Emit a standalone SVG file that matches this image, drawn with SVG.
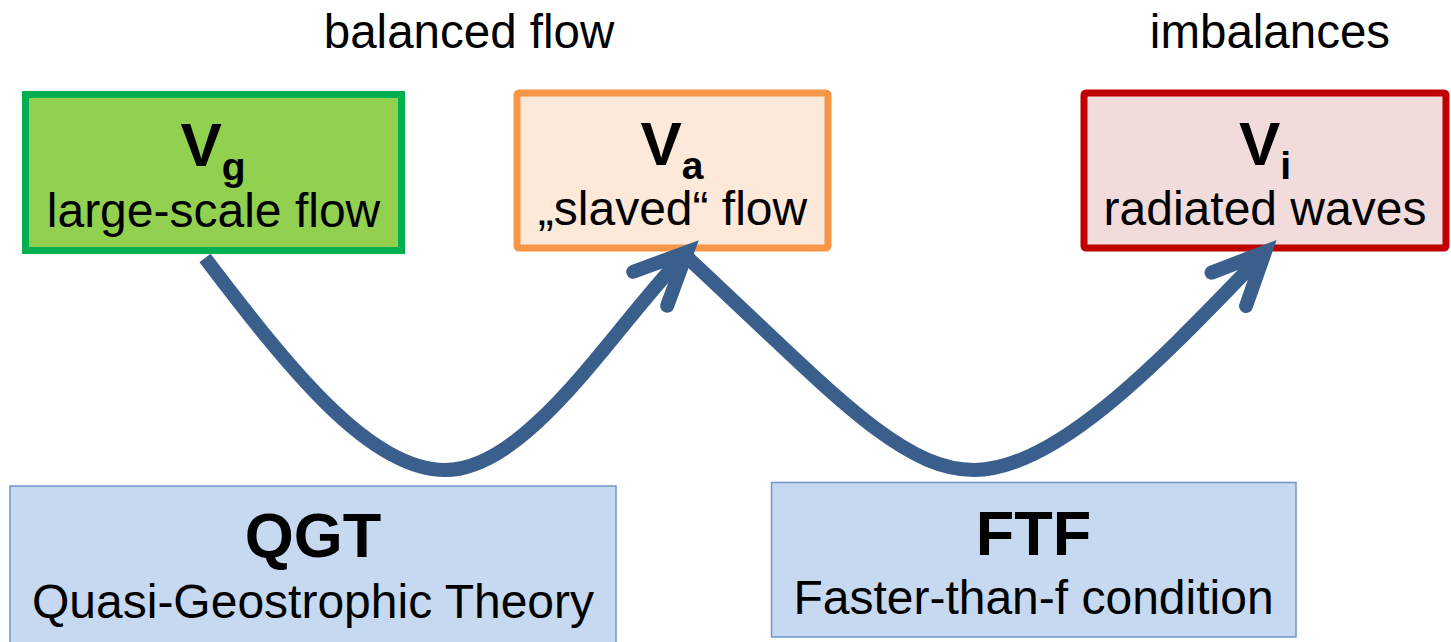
<svg xmlns="http://www.w3.org/2000/svg" width="1451" height="642" viewBox="0 0 1451 642">
<style>
text{font-family:"Liberation Sans",Arial,sans-serif;fill:#000;text-anchor:middle}
.t{font-size:47.5px}
.lbl{font-size:48px}
.v{font-size:62px;font-weight:bold}
.sub{font-size:39px;font-weight:bold}
.big{font-size:63px;font-weight:bold}
.blue{fill:#C6D9F1;stroke:#7094CB;stroke-width:1.5}
.conn{fill:none;stroke:#3B5F8D;stroke-width:14;stroke-linecap:butt}
</style>
<defs>
<marker id="arr" markerUnits="userSpaceOnUse" orient="auto" refX="0" refY="0" markerWidth="200" markerHeight="200" overflow="visible">
<path d="M-52,-24 L0,0 L-52,24" fill="none" stroke="#3B5F8D" stroke-width="14" stroke-linecap="round" stroke-linejoin="miter" stroke-miterlimit="10"/>
</marker>
</defs>
<rect width="1451" height="642" fill="#fff"/>
<text class="t" x="469" y="48">balanced flow</text>
<text class="t" x="1270" y="48">imbalances</text>
<g id="vg">
<rect x="25.5" y="94.5" width="376" height="156" fill="#92D050" stroke="#00B050" stroke-width="7"/>
<text x="213" y="166"><tspan class="v">V</tspan><tspan class="sub" dy="14">g</tspan></text>
<text class="lbl" x="213.5" y="227">large-scale flow</text>
</g>
<g id="va">
<rect x="517" y="93" width="311" height="155" rx="2" fill="#FDE9D9" stroke="#F79646" stroke-width="7" stroke-linejoin="round"/>
<text x="672" y="165"><tspan class="v">V</tspan><tspan class="sub" dy="14">a</tspan></text>
<text class="lbl" x="672.5" y="225">„slaved“ flow</text>
</g>
<g id="vi">
<rect x="1084" y="93" width="362" height="155" rx="2" fill="#F2DCDB" stroke="#C00000" stroke-width="7" stroke-linejoin="round"/>
<text x="1265" y="165"><tspan class="v">V</tspan><tspan class="sub" dy="14">i</tspan></text>
<text class="lbl" x="1265" y="225">radiated waves</text>
</g>
<g id="qgt">
<rect class="blue" x="10" y="486" width="606" height="160"/>
<text class="big" x="313" y="557">QGT</text>
<text class="lbl" x="313" y="618">Quasi-Geostrophic Theory</text>
</g>
<g id="ftf">
<rect class="blue" x="771.5" y="482.5" width="524.5" height="154.5"/>
<text class="big" x="1033.5" y="555">FTF</text>
<text class="lbl" x="1033.5" y="614">Faster-than-f condition</text>
</g>
<g id="connectors">
<path class="conn" d="M205,258 C290,370 370,470 445,470 C530,470 617,322 687,252" marker-end="url(#arr)"/>
<path class="conn" d="M688,258 C830,390 900,470 974,470 C1060,470 1170,350 1265,252" marker-end="url(#arr)"/>
</g>
</svg>
